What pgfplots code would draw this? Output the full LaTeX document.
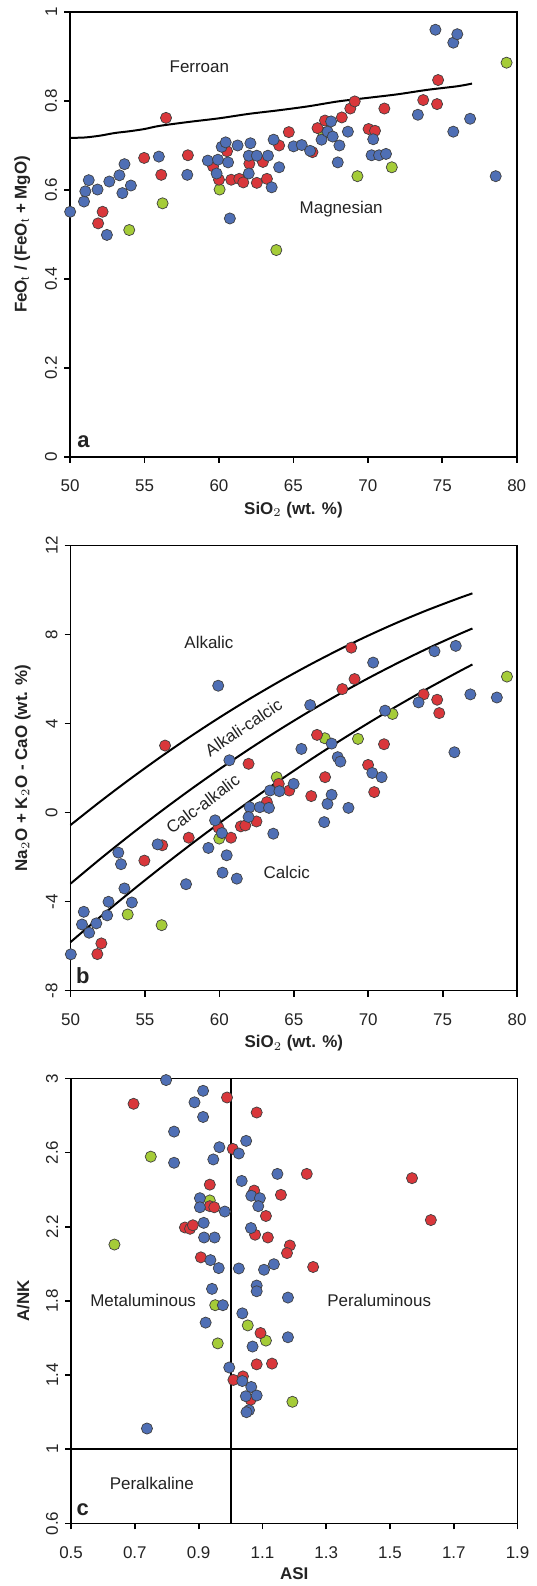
\documentclass[border=0pt]{standalone}
\usepackage{fontspec}
\setmainfont{Liberation Sans}
\usepackage{pgfplots}
\pgfplotsset{compat=1.18}
\definecolor{cblue}{RGB}{79,111,181}
\definecolor{cred}{RGB}{217,55,59}
\definecolor{cgreen}{RGB}{165,204,56}
\definecolor{ctext}{RGB}{35,35,35}
\tikzset{
  rlab/.style={text=ctext, font=\fontsize{8.5}{10}\selectfont},
  plab/.style={text=ctext, font=\bfseries\fontsize{11}{12}\selectfont},
}
\pgfplotsset{
  myax/.style={
    scale only axis, clip=false,
    axis line style={line width=0.9pt},
    tick style={line width=0.9pt, black},
    tick align=outside, major tick length=3pt,
    xtick pos=bottom, ytick pos=left,
    font=\fontsize{8.5}{10}\selectfont,
    ticklabel style={font=\fontsize{8.5}{10}\selectfont, text=ctext},
    /pgf/number format/assume math mode=true,
    yticklabel style={rotate=90, anchor=south},
    xticklabel style={yshift=-5pt},
    every axis y label/.style={at={(axis description cs:-0.107,0.5)}, rotate=90, anchor=center, font=\bfseries\fontsize{8.5}{10}\selectfont, text=ctext},
    every axis x label/.style={at={(axis description cs:0.5,-0.119)}, anchor=center, font=\bfseries\fontsize{8.5}{10}\selectfont, text=ctext},
  },
  pb/.style={only marks, mark=*, mark size=2.8pt, mark options={fill=cblue, draw=black!75, line width=0.35pt}},
  pr/.style={only marks, mark=*, mark size=2.8pt, mark options={fill=cred, draw=black!75, line width=0.35pt}},
  pg/.style={only marks, mark=*, mark size=2.8pt, mark options={fill=cgreen, draw=black!75, line width=0.35pt}},
  bline/.style={black, line width=1pt, no marks, smooth},
}
\begin{document}
\begin{tikzpicture}
\path (0,0) rectangle (266pt,793pt);
% ---------------- panel a
\begin{axis}[myax, at={(35.15pt,564pt)}, anchor=south west,
  width=223.75pt, height=223pt,
  xmin=50, xmax=80, ymin=0, ymax=1,
  xtick={50,55,...,80}, ytick={0,0.2,0.4,0.6,0.8,1},
  xlabel={SiO$_2$ (wt. \%)}, ylabel={FeO$_\mathrm{t}$ / (FeO$_\mathrm{t}$ + MgO)}]
\addplot[bline] coordinates {(50,0.717)(51,0.718)(52,0.722)(53,0.728)(54,0.732)(55,0.737)(56,0.744)(58,0.753)(60,0.761)(62,0.771)(64,0.779)(66,0.788)(68,0.799)(70,0.807)(72,0.815)(74,0.825)(76,0.833)(77,0.839)};
\addplot[pg] coordinates {(53.97,0.510)(56.21,0.570)(60.04,0.601)(63.85,0.465)(67.01,0.728)(69.30,0.631)(71.61,0.651)(79.32,0.886)};
\addplot[pr] coordinates {(51.88,0.525)(52.18,0.551)(54.97,0.672)(56.44,0.762)(56.12,0.634)(57.91,0.678)(59.6,0.653)(60.0,0.623)(60.54,0.687)(60.82,0.623)(61.36,0.625)(61.63,0.617)(62.04,0.659)(62.54,0.616)(62.95,0.663)(63.22,0.625)(64.04,0.700)(64.69,0.730)(66.28,0.685)(66.62,0.739)(67.12,0.756)(68.25,0.763)(68.82,0.783)(69.12,0.799)(70.05,0.737)(70.48,0.733)(71.11,0.783)(73.72,0.802)(74.72,0.847)(74.65,0.793)};
\addplot[pb] coordinates {(50.0,0.551)(50.93,0.574)(51.02,0.597)(51.25,0.622)(51.84,0.601)(52.47,0.499)(52.63,0.619)(53.31,0.633)(53.51,0.593)(53.65,0.658)(54.08,0.610)(55.96,0.675)(57.87,0.634)(59.25,0.666)(59.93,0.668)(59.84,0.637)(60.18,0.697)(60.45,0.707)(60.61,0.662)(60.73,0.536)(61.25,0.700)(62.11,0.705)(62.0,0.677)(62.0,0.637)(62.54,0.677)(63.29,0.677)(63.54,0.606)(63.67,0.713)(64.04,0.651)(65.01,0.698)(65.56,0.701)(66.12,0.688)(66.89,0.713)(67.30,0.731)(67.53,0.754)(67.64,0.720)(68.09,0.700)(67.98,0.662)(68.66,0.731)(70.36,0.714)(70.25,0.678)(70.75,0.678)(71.22,0.681)(73.36,0.769)(74.54,0.960)(75.74,0.931)(76.01,0.950)(75.74,0.731)(76.87,0.760)(78.59,0.631)};
\node[rlab] at (axis cs:58.68,0.877) {Ferroan};
\node[rlab] at (axis cs:68.21,0.557) {Magnesian};
\node[plab] at (axis cs:50.9,0.035) {a};
\end{axis}
% ---------------- panel b
\begin{axis}[myax, at={(35.35pt,296.65pt)}, anchor=south west,
  width=223.75pt, height=223pt,
  xmin=50, xmax=80, ymin=-8, ymax=12,
  xtick={50,55,...,80}, ytick={-8,-4,0,4,8,12},
  xlabel={SiO$_2$ (wt. \%)}, ylabel={Na$_2$O + K$_2$O - CaO (wt. \%)}]
\addplot[bline] coordinates {(50,-0.56)(52,0.497)(54,1.508)(56,2.474)(58,3.394)(60,4.268)(62,5.096)(64,5.879)(66,6.616)(68,7.307)(70,7.952)(72,8.552)(74,9.105)(76,9.613)(77,9.850)};
\addplot[bline] coordinates {(50,-3.195)(52,-2.082)(54,-1.012)(56,0.017)(58,1.004)(60,1.948)(62,2.850)(64,3.710)(66,4.528)(68,5.304)(70,6.037)(72,6.728)(74,7.378)(76,7.985)(77,8.272)};
\addplot[bline] coordinates {(50,-5.82)(52,-4.682)(54,-3.579)(56,-2.510)(58,-1.475)(60,-0.474)(62,0.493)(64,1.425)(66,2.324)(68,3.188)(70,4.018)(72,4.814)(74,5.575)(76,6.303)(77,6.654)};
\addplot[pg] coordinates {(53.84,-4.58)(56.12,-5.06)(59.99,-1.17)(63.85,1.59)(67.08,3.34)(69.31,3.31)(71.63,4.43)(79.32,6.11)};
\addplot[pr] coordinates {(56.35,3.01)(51.80,-6.36)(52.07,-5.88)(54.96,-2.16)(56.16,-1.47)(57.94,-1.13)(59.94,-0.68)(60.78,-1.13)(61.44,-0.62)(61.74,-0.58)(62.49,-0.40)(61.96,2.19)(63.19,0.47)(63.99,1.29)(64.69,0.99)(66.17,0.74)(66.56,3.49)(67.10,1.59)(68.26,5.55)(68.86,7.41)(69.08,6.00)(69.99,2.14)(70.40,0.92)(71.06,3.07)(73.72,5.31)(74.63,5.07)(74.77,4.47)};
\addplot[pb] coordinates {(59.92,5.70)(50.02,-6.37)(50.89,-4.46)(50.77,-5.03)(51.25,-5.40)(51.73,-4.98)(52.46,-4.62)(52.55,-4.01)(53.21,-1.80)(53.39,-2.32)(53.62,-3.41)(54.12,-4.04)(55.85,-1.43)(57.76,-3.22)(59.26,-1.59)(59.71,-0.35)(60.17,-0.92)(60.49,-1.92)(60.21,-2.70)(60.67,2.35)(61.17,-2.97)(62.03,0.24)(61.96,-0.20)(62.71,0.24)(63.33,0.21)(63.40,0.99)(63.62,-0.95)(64.03,0.96)(64.99,1.29)(65.51,2.86)(66.10,4.83)(67.04,-0.43)(67.26,0.39)(67.54,0.80)(67.54,3.10)(67.95,2.49)(68.13,2.29)(68.67,0.21)(70.27,1.78)(70.90,1.59)(70.33,6.74)(71.13,4.58)(73.38,4.95)(74.45,7.25)(75.88,7.49)(75.79,2.71)(76.86,5.31)(78.64,5.17)};
\node[rlab] at (axis cs:59.30,7.64) {Alkalic};
\node[rlab, rotate=34] at (axis cs:61.62,3.83) {Alkali-calcic};
\node[rlab, rotate=37] at (axis cs:58.89,0.39) {Calc-alkalic};
\node[rlab] at (axis cs:64.53,-2.67) {Calcic};
\node[plab] at (axis cs:50.82,-7.35) {b};
\end{axis}
% ---------------- panel c
\begin{axis}[myax, at={(35.6pt,29.65pt)}, anchor=south west,
  width=223.75pt, height=223pt,
  xmin=0.5, xmax=1.9, ymin=0.6, ymax=3,
  xtick={0.5,0.7,...,1.95}, ytick={0.6,1,1.4,1.8,2.2,2.6,3},
  xlabel={ASI}, ylabel={A/NK},
  every axis x label/.append style={at={(axis description cs:0.5,-0.1121)}}]
\addplot[black, line width=1pt, no marks] coordinates {(1,0.6)(1,3)};
\addplot[black, line width=1pt, no marks] coordinates {(0.5,1)(1.9,1)};
\addplot[pg] coordinates {(0.750,2.578)(0.636,2.104)(0.935,2.342)(0.952,1.777)(0.960,1.571)(1.054,1.668)(1.111,1.586)(1.194,1.256)};
\addplot[pr] coordinates {(0.696,2.863)(0.989,2.897)(1.082,2.816)(1.007,2.620)(1.239,2.485)(1.569,2.462)(1.628,2.236)(0.935,2.427)(1.074,2.395)(1.158,2.372)(0.935,2.311)(0.949,2.305)(1.111,2.258)(0.857,2.196)(0.873,2.189)(0.882,2.208)(1.077,2.157)(1.117,2.142)(1.186,2.099)(1.177,2.058)(0.907,2.035)(1.259,1.983)(1.094,1.627)(1.082,1.458)(1.130,1.462)(1.009,1.374)(1.039,1.393)(1.063,1.267)};
\addplot[pb] coordinates {(0.798,2.991)(0.914,2.933)(0.887,2.871)(0.914,2.792)(0.823,2.713)(0.823,2.545)(0.965,2.629)(0.946,2.563)(1.049,2.663)(1.026,2.595)(1.147,2.485)(1.035,2.447)(1.065,2.367)(1.092,2.354)(1.087,2.311)(0.904,2.354)(0.904,2.305)(0.982,2.282)(0.916,2.221)(0.917,2.142)(0.950,2.142)(1.064,2.193)(0.937,2.020)(0.963,1.977)(1.026,1.975)(1.105,1.968)(1.136,1.998)(1.082,1.883)(1.082,1.852)(0.942,1.865)(0.976,1.777)(1.180,1.818)(1.037,1.733)(0.922,1.683)(1.180,1.604)(1.069,1.554)(0.996,1.441)(1.037,1.368)(1.065,1.336)(1.048,1.286)(1.082,1.290)(1.058,1.211)(1.050,1.200)(0.738,1.112)};
\node[rlab] at (axis cs:0.726,1.801) {Metaluminous};
\node[rlab] at (axis cs:1.466,1.801) {Peraluminous};
\node[rlab] at (axis cs:0.753,0.817) {Peralkaline};
\node[plab] at (axis cs:0.537,0.675) {c};
\end{axis}
\end{tikzpicture}
\end{document}
